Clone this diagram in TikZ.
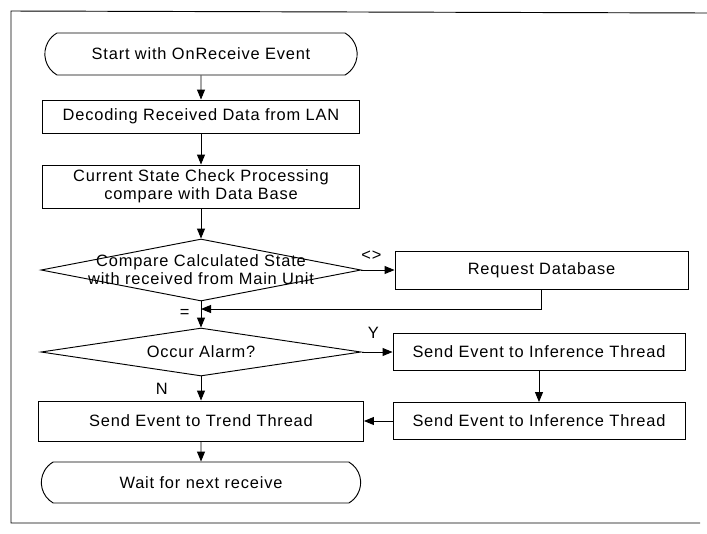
\documentclass[tikz,border=0pt]{standalone}
\usepackage{fontspec}
\setsansfont{Liberation Sans}[LetterSpace=5]
\usetikzlibrary{arrows.meta,positioning,shapes.geometric,shapes.misc}
\newcommand\flowfont{\sffamily\fontsize{14}{15.5}\selectfont}
\tikzset{flowbox/.style={draw,line width=0.8pt,align=center,font=\flowfont,minimum width=95mm,minimum height=10mm,inner sep=2pt}, terminal/.style={flowbox,rounded rectangle,rounded rectangle arc length=120}, decision/.style={diamond,draw,line width=0.8pt,inner sep=0pt}, flow/.style={-{Triangle[length=3mm,width=2.4mm]},line width=0.8pt}, rel/.style={font=\flowfont,inner sep=1pt,align=center}}
\begin{document}
\begin{tikzpicture}[x=0.3mm,y=-0.3mm]
\useasboundingbox (0,0) rectangle (707,533);
\draw[line width=0.8pt] (707,13) -- (11,11) -- (11,523) -- (700,523);
\node[terminal,minimum width=95.1mm,minimum height=12.6mm] (start) at (201,54) {Start with OnReceive Event};
\node[flowbox,minimum height=9.9mm] (decode) at (201,116.5) {Decoding Received Data from LAN};
\node[flowbox,minimum height=12.9mm] (check) at (201,186.5) {Current State Check Processing\\compare with Data Base};
\node[decision,minimum width=96mm,minimum height=18.6mm] (cmp) at (201,270) {};
\node[rel] (cmp-text) at (cmp) {Compare Calculated State\\with received from Main Unit};
\node[flowbox,minimum width=87.9mm,minimum height=11.4mm] (req) at (541.5,270) {Request Database};
\coordinate (join) at (201,309);
\node[decision,minimum width=96mm,minimum height=14.4mm] (alarm) at (201,352) {};
\node[rel] (alarm-text) at (alarm) {Occur Alarm?};
\node[flowbox,minimum width=87.6mm,minimum height=11.1mm] (infer1) at (539,352) {Send Event to Inference Thread};
\node[flowbox,minimum width=87.6mm,minimum height=11.1mm] (infer2) at (539,421) {Send Event to Inference Thread};
\node[flowbox,minimum width=97.5mm,minimum height=12mm] (trend) at (201,421) {Send Event to Trend Thread};
\node[terminal,minimum width=97.2mm,minimum height=12.3mm] (wait) at (201,482.5) {Wait for next receive};
\draw[flow] (start)--(decode);
\draw[flow] (decode)--(check);
\draw[flow] (check)--(cmp);
\draw[flow] (cmp)--node[rel,above=2.5mm,pos=0.3]{<>}(req);
\draw[flow] (req.south) |- (join);
\draw[flow] (cmp)--node[rel,left=3mm,pos=0.45]{=}(alarm);
\draw[flow] (alarm)--node[rel,above=3.5mm,pos=0.38]{Y}(infer1);
\draw[flow] (alarm)--node[rel,left=9.5mm,pos=0.5]{N}(trend);
\draw[flow] (infer1)--(infer2);
\draw[flow] (infer2)--(trend);
\draw[flow] (trend)--(wait);
\end{tikzpicture}
\end{document}
